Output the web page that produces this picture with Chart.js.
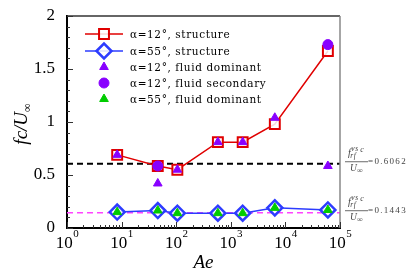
<!DOCTYPE html>
<html><head><meta charset="utf-8">
<script src="https://cdn.jsdelivr.net/npm/chart.js@4.4.1/dist/chart.umd.min.js"></script>
<style>html,body{margin:0;padding:0;background:#fff}#wrap{width:415px;height:277px}</style>
</head><body><div id="wrap"><canvas id="c" width="415" height="277"></canvas></div>
<script>
// ---- data ----
const aeStruct = [8.3, 46, 105, 580, 1650, 6400, 60000];
const fStruct12 = [0.69, 0.585, 0.55, 0.81, 0.81, 0.98, 1.67];
const fStruct55 = [0.15, 0.165, 0.14, 0.14, 0.14, 0.19, 0.17];
const fFluidDom12 = [0.69, 0.42, 0.55, 0.81, 0.81, 1.04, 0.585];
const aeFluidSec12 = [46, 60000];
const fFluidSec12 = [0.585, 1.73];
const fFluidDom55 = [0.15, 0.165, 0.14, 0.14, 0.14, 0.19, 0.17];
const refX = [1, 100000];
const refHigh = 0.6062;
const refLow = 0.1443;
const yTickValues = [0, 0.5, 1, 1.5, 2];
const yTickLabels = ['0', '0.5', '1', '1.5', '2'];
const xTickExponents = [0, 1, 2, 3, 4, 5];
const legendLabels = ['\u03b1=12\u00b0, structure', '\u03b1=55\u00b0, structure', '\u03b1=12\u00b0, fluid dominant', '\u03b1=12\u00b0, fluid secondary', '\u03b1=55\u00b0, fluid dominant'];

const pts = (xs, ys) => xs.map((x, i) => ({x: x, y: ys[i]}));
const SERIF = '"Liberation Serif", "DejaVu Serif", serif';
const DSERIF = '"DejaVu Serif", serif';

const RED = '#e00000', BLUE = '#2d3cff', PURPLE = '#8800ff', GREEN = '#00cc00';

const markerStyles = [
  {ps: 'rect', r: 7, lr: 7, fill: 'rgba(255,255,255,0.85)', stroke: RED, bw: 2, line: RED},
  {ps: 'rectRot', r: 7.5, lr: 7.5, fill: 'rgba(255,255,255,0.85)', stroke: BLUE, bw: 2.5, line: BLUE},
  {ps: 'triangle', r: 5, lr: 5, fill: PURPLE, stroke: PURPLE, bw: 1, line: null},
  {ps: 'circle', r: 5, lr: 5, fill: PURPLE, stroke: PURPLE, bw: 1, line: null},
  {ps: 'triangle', r: 5, lr: 5, fill: GREEN, stroke: GREEN, bw: 1, line: null}
];

const decor = {
  id: 'decor',
  afterDraw(chart) {
    const ctx = chart.ctx, a = chart.chartArea, xs = chart.scales.x, ys = chart.scales.y;
    ctx.save();
    // top / right frame
    ctx.lineWidth = 1.5;
    ctx.strokeStyle = '#333';
    ctx.beginPath(); ctx.moveTo(a.left, a.top); ctx.lineTo(a.right, a.top); ctx.stroke();
    ctx.strokeStyle = '#888';
    ctx.beginPath(); ctx.moveTo(a.right, a.top); ctx.lineTo(a.right, a.bottom); ctx.stroke();
    // inward ticks
    ctx.strokeStyle = '#333'; ctx.lineWidth = 1;
    for (let i = 0; i <= 20; i++) {
      const v = i / 10, py = Math.round(ys.getPixelForValue(v)) + 0.5;
      const len = (i % 5 === 0) ? 6 : 3;
      ctx.beginPath(); ctx.moveTo(a.left, py); ctx.lineTo(a.left + len, py); ctx.stroke();
    }
    for (let e = 0; e <= 5; e++) {
      for (let m = 1; m <= 9; m++) {
        const v = m * Math.pow(10, e);
        if (v > 100000) continue;
        const px = Math.round(xs.getPixelForValue(v)) + 0.5;
        const len = (m === 1) ? 6 : 3;
        ctx.beginPath(); ctx.moveTo(px, a.bottom); ctx.lineTo(px, a.bottom - len); ctx.stroke();
      }
    }
    // x tick labels 10^k
    ctx.fillStyle = '#000';
    ctx.textBaseline = 'alphabetic';
    xTickExponents.forEach(k => {
      const px = xs.getPixelForValue(Math.pow(10, k));
      ctx.font = '17px ' + SERIF;
      const wb = ctx.measureText('10').width;
      ctx.font = '11px ' + SERIF;
      const we = ctx.measureText(String(k)).width;
      const x0 = px - (wb + we) / 2;
      ctx.font = '17px ' + SERIF; ctx.textAlign = 'left';
      ctx.fillText('10', x0, 248);
      ctx.font = '11px ' + SERIF;
      ctx.fillText(String(k), x0 + wb + 0.5, 237);
    });
    // x title
    ctx.font = 'italic 19px ' + SERIF; ctx.textAlign = 'center';
    ctx.fillText('Ae', (a.left + a.right) / 2, 268);
    // y title
    ctx.save();
    ctx.translate(27, (a.top + a.bottom) / 2 + 2);
    ctx.rotate(-Math.PI / 2);
    ctx.font = 'italic 19px ' + SERIF;
    const w1 = ctx.measureText('fc/U').width;
    ctx.font = '12px ' + SERIF;
    const w2 = ctx.measureText('\u221e').width;
    let sx = -(w1 + w2) / 2;
    ctx.textAlign = 'left';
    ctx.font = 'italic 19px ' + SERIF;
    ctx.fillText('fc/U', sx, 0);
    ctx.font = '12px ' + SERIF;
    ctx.fillText('\u221e', sx + w1, 4);
    ctx.restore();
    // right annotations
    const annot = (val) => {
      const py = ys.getPixelForValue(val) - 2.5;
      const fx = a.right + 5;
      ctx.textAlign = 'left';
      ctx.fillStyle = '#444';
      // numerator
      let x = fx + 3;
      ctx.font = 'italic 10px ' + SERIF; ctx.fillText('f', x, py - 5); x += ctx.measureText('f').width + 0.5;
      ctx.font = 'italic 7.5px ' + SERIF;
      ctx.letterSpacing = '0.6px';
      ctx.fillText('vs', x, py - 10); ctx.fillText('rf', x - 1, py - 3);
      x += ctx.measureText('vs').width + 1.5;
      ctx.letterSpacing = '0px';
      ctx.font = 'italic 8px ' + SERIF; ctx.fillText('c', x, py - 9);
      // bar
      ctx.strokeStyle = '#444'; ctx.lineWidth = 0.8;
      ctx.beginPath(); ctx.moveTo(fx, py + 0.5); ctx.lineTo(fx + 23, py + 0.5); ctx.stroke();
      // denominator
      ctx.font = 'italic 9.5px ' + SERIF; ctx.fillText('U', fx + 5, py + 10);
      ctx.font = '8px ' + SERIF; ctx.fillText('\u221e', fx + 12, py + 12);
      ctx.font = '9px ' + SERIF;
      ctx.letterSpacing = '1.3px';
      ctx.fillText('=' + val.toFixed(4), fx + 23, py + 3);
      ctx.letterSpacing = '0px';
    };
    annot(refHigh);
    annot(refLow);
    ctx.restore();
  },
  afterDatasetsDraw(chart) {
    const ctx = chart.ctx;
    ctx.save();
    const rowY = [34, 51, 67, 83, 99];
    markerStyles.forEach((m, i) => {
      const y = rowY[i];
      if (m.line) {
        ctx.strokeStyle = m.line; ctx.lineWidth = 1.5;
        ctx.beginPath(); ctx.moveTo(85, y); ctx.lineTo(123, y); ctx.stroke();
      }
      ctx.fillStyle = m.fill; ctx.strokeStyle = m.stroke; ctx.lineWidth = m.bw;
      Chart.helpers.drawPoint(ctx, {pointStyle: m.ps, radius: m.lr, borderWidth: m.bw, rotation: 0}, 104, y);
      ctx.fillStyle = '#000';
      ctx.font = '10.5px ' + DSERIF; ctx.textAlign = 'left'; ctx.textBaseline = 'middle';
      ctx.letterSpacing = '0.6px';
      ctx.fillText(legendLabels[i], 130, y + 1);
      ctx.letterSpacing = '0px';
    });
    ctx.restore();
  }
};

const ds = (label, data, m, order, showLine) => ({
  label: label, data: data, order: order, showLine: showLine,
  borderColor: m.line || m.stroke, borderWidth: showLine ? 1.5 : 0,
  pointStyle: m.ps, pointRadius: m.r, pointHoverRadius: m.r,
  pointBackgroundColor: m.fill, pointBorderColor: m.stroke, pointBorderWidth: m.bw,
  fill: false
});

new Chart(document.getElementById('c'), {
  type: 'scatter',
  data: {
    datasets: [
      {label: 'refHigh', data: pts(refX, [refHigh, refHigh]), showLine: true, borderColor: '#000', borderWidth: 2, borderDash: [6, 4], pointRadius: 0, order: 9},
      {label: 'refLow', data: pts(refX, [refLow, refLow]), showLine: true, borderColor: '#ff44ff', borderWidth: 1.5, borderDash: [6, 4], pointRadius: 0, order: 9},
      ds(legendLabels[0], pts(aeStruct, fStruct12), markerStyles[0], 5, true),
      ds(legendLabels[1], pts(aeStruct, fStruct55), markerStyles[1], 5, true),
      ds(legendLabels[2], pts(aeStruct, fFluidDom12), markerStyles[2], 2, false),
      ds(legendLabels[3], pts(aeFluidSec12, fFluidSec12), markerStyles[3], 1, false),
      ds(legendLabels[4], pts(aeStruct, fFluidDom55), markerStyles[4], 2, false)
    ]
  },
  options: {
    responsive: false, animation: false, devicePixelRatio: 1,
    layout: {padding: {left: 0, right: 75, top: 16, bottom: 0}},
    plugins: {legend: {display: false}, tooltip: {enabled: false}},
    scales: {
      x: {
        type: 'logarithmic', min: 1, max: 100000,
        grid: {display: false},
        border: {display: true, color: '#000', width: 2},
        ticks: {display: false},
        afterBuildTicks: s => { s.ticks = xTickExponents.map(k => ({value: Math.pow(10, k)})); },
        afterFit: s => { s.height = 49; }
      },
      y: {
        type: 'linear', min: 0, max: 2,
        grid: {display: false},
        border: {display: true, color: '#000', width: 2},
        afterBuildTicks: s => { s.ticks = yTickValues.map(v => ({value: v})); },
        ticks: {
          color: '#000', padding: 4,
          font: {family: SERIF, size: 17},
          callback: (v) => { const i = yTickValues.indexOf(v); return i >= 0 ? yTickLabels[i] : ''; }
        },
        afterFit: s => { s.width = 67; }
      }
    }
  },
  plugins: [decor]
});
</script></body></html>
